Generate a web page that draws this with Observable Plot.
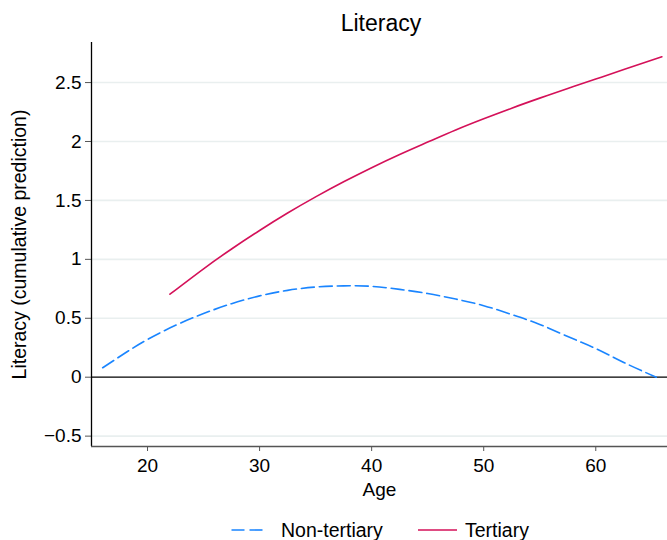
<!DOCTYPE html>
<html>
<head>
<meta charset="utf-8">
<script src="https://cdn.jsdelivr.net/npm/d3@7"></script>
<script src="https://cdn.jsdelivr.net/npm/@observablehq/plot@0.6"></script>
<style>
  html, body { margin: 0; padding: 0; background: #fff; }
  body { width: 667px; height: 540px; position: relative; overflow: hidden;
         font-family: "Liberation Sans", Arial, Helvetica, sans-serif; color: #000; }
  #title { position: absolute; left: 91px; width: 580px; top: 12px; line-height: 23px;
           font-size: 23px; text-align: center; }
  #chart { position: absolute; left: 0; top: 40px; }
  .leg { position: absolute; top: 520px; height: 20px; font-size: 19.5px; line-height: 20px; white-space: nowrap; }
  .sw { position: absolute; top: 520px; }
</style>
</head>
<body>
<div id="title">Literacy</div>
<div id="chart"></div>
<svg class="sw" style="left:231px" width="34" height="20">
  <line x1="0.5" y1="10" x2="33" y2="10" stroke="#1a85ff" stroke-width="1.6" stroke-dasharray="13,5"/>
</svg>
<div class="leg" style="left:281px">Non-tertiary</div>
<svg class="sw" style="left:418px" width="40" height="20">
  <line x1="0" y1="10" x2="39" y2="10" stroke="#d41159" stroke-width="1.6"/>
</svg>
<div class="leg" style="left:465px">Tertiary</div>
<script>
// Data
const ageNonTertiary = [16, 18, 20, 22.5, 25, 27.5, 30, 32.5, 35, 37.5, 40, 42.5, 45, 47.5, 50, 52.5, 55, 57.5, 60, 62.5, 65.4];
const litNonTertiary = [0.08, 0.205, 0.32, 0.44, 0.54, 0.624, 0.69, 0.737, 0.765, 0.775, 0.771, 0.745, 0.71, 0.663, 0.607, 0.532, 0.448, 0.345, 0.243, 0.125, 0.0];
const ageTertiary = [22, 25, 27.5, 30, 32.5, 35, 37.5, 40, 42.5, 45, 47.5, 50, 52.5, 55, 57.5, 60, 62.5, 65.9];
const litTertiary = [0.704, 0.92, 1.088, 1.245, 1.393, 1.53, 1.658, 1.778, 1.89, 1.995, 2.098, 2.193, 2.283, 2.368, 2.45, 2.53, 2.61, 2.719];
const xTicks = [20, 30, 40, 50, 60];
const yTicks = [-0.5, 0, 0.5, 1, 1.5, 2, 2.5];
const xDomain = [15, 66.4];
const yDomain = [-0.588, 2.84];

const nonTertiary = ageNonTertiary.map((a, i) => ({age: a, lit: litNonTertiary[i]}));
const tertiary = ageTertiary.map((a, i) => ({age: a, lit: litTertiary[i]}));
const fmt = d => d < 0 ? "\u2212" + Math.abs(d) : String(d);

const chart = Plot.plot({
  width: 667,
  height: 468,
  marginTop: 2,
  marginBottom: 62,
  marginLeft: 91,
  marginRight: 0,
  style: {fontFamily: "'Liberation Sans', Arial, Helvetica, sans-serif", fontSize: "19px", color: "#000", background: "#fff"},
  x: {domain: xDomain},
  y: {domain: yDomain},
  marks: [
    Plot.gridY(yTicks.filter(d => d !== 0), {stroke: "#e9efef", strokeOpacity: 1, strokeWidth: 1.6}),
    Plot.ruleY([0], {stroke: "#000", strokeWidth: 1.3}),
    Plot.axisX(xTicks, {tickSize: 5, tickPadding: 6.5, stroke: "#555", fill: "#000", tickFormat: d => String(d), label: null}),
    Plot.axisY(yTicks, {tickSize: 6, tickPadding: 4, stroke: "#555", fill: "#000", tickFormat: fmt, label: null}),
    Plot.ruleX([xDomain[0]], {stroke: "#000", strokeWidth: 1.3}),
    Plot.ruleY([yDomain[0]], {stroke: "#555", strokeWidth: 1.3}),
    Plot.line(nonTertiary, {x: "age", y: "lit", stroke: "#1a85ff", strokeWidth: 1.6, strokeDasharray: "13,5", curve: "natural"}),
    Plot.line(tertiary, {x: "age", y: "lit", stroke: "#d41159", strokeWidth: 1.6, curve: "natural"}),
    Plot.text(["Age"], {frameAnchor: "bottom", lineAnchor: "middle", textAnchor: "middle", dy: 43, fontSize: 19, fill: "#000"}),
    Plot.text(["Literacy (cumulative prediction)"], {frameAnchor: "left", lineAnchor: "middle", textAnchor: "middle", rotate: -90, dx: -72, fontSize: 19.5, fill: "#000"})
  ]
});
document.getElementById("chart").appendChild(chart);
</script>
</body>
</html>
